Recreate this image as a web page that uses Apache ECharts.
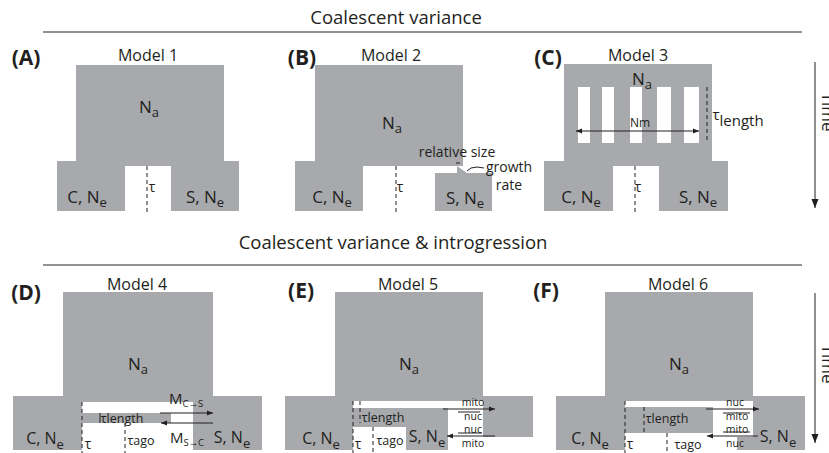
<!DOCTYPE html>
<html>
<head>
<meta charset="utf-8">
<script src="https://cdn.jsdelivr.net/npm/echarts/dist/echarts.min.js"></script>
<style>
  html, body { margin: 0; padding: 0; background: #fff; }
  #main { width: 829px; height: 453px; }
</style>
</head>
<body>
<div id="main"></div>
<script>
// figure units = pixels of the 829 x 453 figure, origin top-left

// ancestral populations (Na)
var ancestorBlocks = [
  [76, 65, 224, 166], [315, 65, 463, 166], [564, 64, 712, 166],
  [63, 292, 213, 402], [335, 292, 483, 401], [605, 292, 753, 401]
];
// daughter populations C / S and their pieces
var daughterBlocks = [
  [57, 161, 125, 211], [171, 161, 239, 211],
  [295, 161, 363, 211],
  [544, 161, 613, 211], [659, 161, 728, 211],
  [13, 396, 82, 450], [193, 396, 262, 450],
  [285, 396, 353, 450], [406, 427, 448, 450], [483, 396, 533, 437],
  [556, 396, 625, 450], [753, 396, 805, 450], [737, 437, 753, 450]
];
// introgression bands (tau length)
var introBands = [[82, 413, 171, 423], [353, 408, 448, 427], [625, 407, 713, 433]];
// model 2 growing S population
var grownPop = [[435, 173], [457, 173], [457, 166], [467, 173], [492, 173], [492, 211], [435, 211]];
// model 3 migration windows (white)
var migrationWindows = [
  [578, 87, 590, 143], [602, 87, 614, 143], [630, 87, 642, 143],
  [657, 87, 671, 143], [684, 87, 699, 143]
];
// dashed time markers [x, yTop, yBottom]
var splitTimes = [
  [147, 166, 212], [396, 166, 212], [635, 166, 212], [707, 87, 143],
  [82, 402, 453], [125, 423, 453],
  [353, 401, 453], [360, 401, 423], [373, 427, 453],
  [625, 401, 453], [644, 407, 433], [667, 433, 453]
];
// plain strokes [x0, y0, x1, y1]
var rules = [[43, 32, 802, 32], [43, 265, 802, 265]];
var bars = [
  [458, 412, 480, 412], [458, 433, 482, 433],
  [723, 413, 750, 413], [723, 432, 750, 432],
  [100, 413, 100, 423], [456, 163, 460, 163]
];
var growthPointer = [[467, 171], [471, 168], [477, 167], [484, 168]];
// migration arrows [x0, y0, x1, y1, heads]
var fluxArrows = [
  [576, 131, 699, 131, 2],
  [160, 413, 213, 413, 1], [213, 423, 161, 423, 1],
  [443, 409, 495, 409, 1], [495, 436, 447, 436, 1],
  [706, 409, 759, 409, 1], [758, 436, 707, 436, 1]
];
var timeArrows = [[815, 62, 815, 208], [815, 293, 815, 443]];

// labels [x, y, text, subscript, kind]
var labels = [
  [396, 16, 'Coalescent variance', '', 'head'],
  [393, 241, 'Coalescent variance & introgression', '', 'head'],
  [26, 57, '(A)', '', 'panel'], [302, 57, '(B)', '', 'panel'], [548, 57, '(C)', '', 'panel'],
  [26, 292, '(D)', '', 'panel'], [301, 290, '(E)', '', 'panel'], [546, 290, '(F)', '', 'panel'],
  [148, 55, 'Model 1', '', 'model'], [391, 55, 'Model 2', '', 'model'], [638, 55, 'Model 3', '', 'model'],
  [137, 284, 'Model 4', '', 'model'], [408, 284, 'Model 5', '', 'model'], [678, 284, 'Model 6', '', 'model'],
  [149, 106, 'N', 'a', 'pop'], [392, 122, 'N', 'a', 'pop'], [642, 78, 'N', 'a', 'pop'],
  [138, 363, 'N', 'a', 'pop'], [409, 363, 'N', 'a', 'pop'], [679, 363, 'N', 'a', 'pop'],
  [87, 196, 'C, N', 'e', 'pop'], [205, 196, 'S, N', 'e', 'pop'],
  [332, 196, 'C, N', 'e', 'pop'], [465, 197, 'S, N', 'e', 'pop'],
  [581, 196, 'C, N', 'e', 'pop'], [698, 196, 'S, N', 'e', 'pop'],
  [45, 438, 'C, N', 'e', 'popB'], [232, 437, 'S, N', 'e', 'popB'],
  [321, 438, 'C, N', 'e', 'popB'], [427, 436, 'S, N', 'e', 'popB'],
  [590, 438, 'C, N', 'e', 'popB'], [778, 436, 'S, N', 'e', 'popB'],
  [152, 186, 'τ', '', 'tau'], [400, 186, 'τ', '', 'tau'], [638, 186, 'τ', '', 'tau'],
  [88, 443, 'τ', '', 'tau'], [358, 443, 'τ', '', 'tau'], [630, 443, 'τ', '', 'tau'],
  [738, 114, 'τ', 'length', 'taulen'],
  [122, 418, 'τlength', '', 'small'], [383, 417, 'τlength', '', 'small'], [667, 418, 'τlength', '', 'small'],
  [141, 440, 'τago', '', 'small'], [390, 440, 'τago', '', 'small'], [688, 444, 'τago', '', 'small'],
  [640, 122, 'Nm', '', 'tiny'],
  [457, 151, 'relative size', '', 'note'], [509, 166, 'growth', '', 'note'], [509, 184, 'rate', '', 'note'],
  [186, 398, 'M', 'C→S', 'mig'], [187, 437, 'M', 'S→C', 'mig'],
  [473, 402, 'mito', '', 'stack'], [473, 416, 'nuc', '', 'stack'], [473, 429, 'nuc', '', 'stack'], [473, 443, 'mito', '', 'stack'],
  [735, 402, 'nuc', '', 'stack'], [737, 416, 'mito', '', 'stack'], [737, 429, 'mito', '', 'stack'], [735, 443, 'nuc', '', 'stack'],
  [828, 112, 'Time', '', 'time'], [828, 364, 'Time', '', 'time']
];

var FONT = '"Open Sans", "Noto Sans", sans-serif';
var GREY = '#a7a9ac';
var INK = '#231f20';
var textKinds = {
  head: {size: 18.5},
  panel: {size: 21, weight: 'bold'},
  model: {size: 16},
  pop: {size: 17, sub: 13, drop: 6},
  popB: {size: 16, sub: 13, drop: 6},
  tau: {size: 14},
  taulen: {size: 15, sub: 15, drop: 6},
  small: {size: 12.5},
  tiny: {size: 12},
  stack: {size: 10.5},
  note: {size: 14},
  mig: {size: 15, sub: 9.5, drop: 5},
  time: {size: 17, rotate: true}
};

var measureCtx = document.createElement('canvas').getContext('2d');
function textWidth(str, font) {
  measureCtx.font = font;
  return measureCtx.measureText(str).width;
}

function rectItem(fill) {
  return function (params, api) {
    var p0 = api.coord([api.value(0), api.value(1)]);
    var p1 = api.coord([api.value(2), api.value(3)]);
    return {
      type: 'rect',
      shape: {x: Math.min(p0[0], p1[0]), y: Math.min(p0[1], p1[1]),
        width: Math.abs(p1[0] - p0[0]), height: Math.abs(p1[1] - p0[1])},
      style: {fill: fill}
    };
  };
}

function lineItem(stroke, width, dash) {
  return function (params, api) {
    var p0 = api.coord([api.value(0), api.value(1)]);
    var p1 = api.coord([api.value(2), api.value(3)]);
    return {
      type: 'line',
      shape: {x1: p0[0], y1: p0[1], x2: p1[0], y2: p1[1]},
      style: {stroke: stroke, lineWidth: width, lineDash: dash || null}
    };
  };
}

function dashItem(params, api) {
  var p0 = api.coord([api.value(0), api.value(1)]);
  var p1 = api.coord([api.value(0), api.value(2)]);
  return {
    type: 'line',
    shape: {x1: p0[0], y1: p0[1], x2: p1[0], y2: p1[1]},
    style: {stroke: INK, lineWidth: 1, lineDash: [4, 3]}
  };
}

function head(tip, from, len, half) {
  var dx = tip[0] - from[0], dy = tip[1] - from[1];
  var d = Math.sqrt(dx * dx + dy * dy) || 1;
  var ux = dx / d, uy = dy / d;
  var bx = tip[0] - ux * len, by = tip[1] - uy * len;
  return {
    type: 'polygon',
    shape: {points: [tip, [bx - uy * half, by + ux * half], [bx + uy * half, by - ux * half]]},
    style: {fill: INK}
  };
}

function arrowItem(len, half) {
  return function (params, api) {
    var p0 = api.coord([api.value(0), api.value(1)]);
    var p1 = api.coord([api.value(2), api.value(3)]);
    var heads = api.value(4);
    var kids = [{
      type: 'line',
      shape: {x1: p0[0], y1: p0[1], x2: p1[0], y2: p1[1]},
      style: {stroke: INK, lineWidth: 1}
    }, head(p1, p0, len, half)];
    if (heads === 2) kids.push(head(p0, p1, len, half));
    return {type: 'group', children: kids};
  };
}

function labelItem(params, api) {
  var l = labels[params.dataIndex];
  var k = textKinds[l[4]];
  var p = api.coord([l[0], l[1]]);
  var f1 = (k.weight || 'normal') + ' ' + k.size + 'px ' + FONT;
  var w1 = textWidth(l[2], f1), w2 = 0, f2 = null;
  if (l[3]) {
    f2 = 'normal ' + k.sub + 'px ' + FONT;
    w2 = textWidth(l[3], f2);
  }
  var left = -(w1 + w2) / 2;
  var kids = [{
    type: 'text',
    style: {text: l[2], x: left, y: 0, font: f1, fill: INK, align: 'left', verticalAlign: 'middle'}
  }];
  if (l[3]) {
    kids.push({
      type: 'text',
      style: {text: l[3], x: left + w1, y: k.drop, font: f2, fill: INK, align: 'left', verticalAlign: 'middle'}
    });
  }
  return {type: 'group', x: p[0], y: p[1], rotation: k.rotate ? -Math.PI / 2 : 0, children: kids};
}

var chart = echarts.init(document.getElementById('main'), null, {renderer: 'svg'});
chart.setOption({
  animation: false,
  backgroundColor: '#fff',
  grid: {left: 0, top: 0, right: 0, bottom: 0},
  xAxis: {type: 'value', min: 0, max: 829, show: false},
  yAxis: {type: 'value', min: 0, max: 453, inverse: true, show: false},
  series: [
    {type: 'custom', z: 1, silent: true, data: ancestorBlocks, renderItem: rectItem(GREY)},
    {type: 'custom', z: 1, silent: true, data: daughterBlocks, renderItem: rectItem(GREY)},
    {type: 'custom', z: 1, silent: true, data: introBands, renderItem: rectItem(GREY)},
    {
      type: 'custom', z: 1, silent: true, data: [grownPop[0]],
      renderItem: function (params, api) {
        return {type: 'polygon', shape: {points: grownPop.map(function (p) { return api.coord(p); })},
          style: {fill: GREY}};
      }
    },
    {type: 'custom', z: 2, silent: true, data: migrationWindows, renderItem: rectItem('#fff')},
    {type: 'custom', z: 3, silent: true, data: splitTimes, renderItem: dashItem},
    {type: 'custom', z: 3, silent: true, data: rules, renderItem: lineItem('#6d6e71', 1.5)},
    {type: 'custom', z: 3, silent: true, data: bars, renderItem: lineItem(INK, 1)},
    {
      type: 'custom', z: 3, silent: true, data: [growthPointer[0]],
      renderItem: function (params, api) {
        return {type: 'polyline', shape: {points: growthPointer.map(function (p) { return api.coord(p); })},
          style: {stroke: INK, lineWidth: 1, fill: null}};
      }
    },
    {type: 'custom', z: 4, silent: true, data: fluxArrows, renderItem: arrowItem(6, 2.5)},
    {type: 'custom', z: 4, silent: true, data: timeArrows.map(function (a) { return a.concat([1]); }),
      renderItem: arrowItem(9, 3.5)},
    {type: 'custom', z: 5, silent: true, data: labels.map(function (l) { return [l[0], l[1]]; }),
      renderItem: labelItem}
  ]
});
</script>
</body>
</html>
